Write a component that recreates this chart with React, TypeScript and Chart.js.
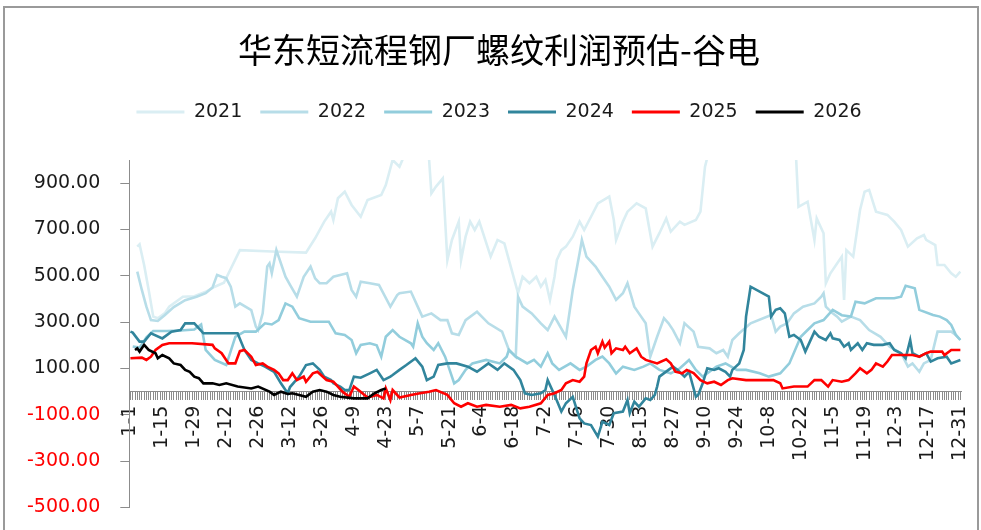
import React, { useEffect, useRef } from 'react';
import { Chart, registerables } from 'chart.js';

Chart.register(...registerables);

const chartTitle = '华东短流程钢厂螺纹利润预估-谷电';
const seriesNames = ['2021', '2022', '2023', '2024', '2025', '2026'];
const seriesColors = ['#DAEEF3', '#B7DDE8', '#92CDDC', '#31859C', '#FF0000', '#000000'];
const tickLabels = ['1-1', '1-15', '1-29', '2-12', '2-26', '3-12', '3-26', '4-9', '4-23', '5-7', '5-21', '6-4', '6-18', '7-2', '7-16', '7-30', '8-13', '8-27', '9-10', '9-24', '10-8', '10-22', '11-5', '11-19', '12-3', '12-17', '12-31'];
const tickStepDays = 14;
const yTickValues = [-500, -300, -100, 100, 300, 500, 700, 900];
const yMin = -500;
const yMax = 1000;

// [day of year (0 = 1-1), value]
const s2021: [number, number][] = [[3,626],[4,636],[6,547],[8,439],[10,324],[12,317],[15,338],[17,367],[23,410],[28,412],[33,431],[37,453],[41,470],[48,611],[62,605],[77,600],[81,662],[85,734],[88,777],[89,741],[91,835],[94,863],[97,806],[101,755],[104,827],[110,849],[112,892],[115,1000],[118,971],[121,1040],[127,1080],[131,1000],[132,856],[134,885],[137,921],[139,568],[141,655],[144,734],[145,568],[147,669],[149,734],[151,698],[153,734],[158,583],[161,655],[164,640],[170,425],[172,496],[175,468],[178,496],[180,453],[182,482],[184,396],[186,496],[187,568],[189,611],[191,626],[194,669],[197,734],[199,698],[202,755],[205,813],[210,842],[212,741],[213,655],[216,734],[218,777],[222,813],[226,791],[229,626],[232,684],[235,748],[237,691],[241,734],[243,720],[248,741],[250,777],[252,971],[253,1010],[260,1150],[275,1250],[288,1150],[292,1000],[293,798],[297,820],[300,655],[301,748],[304,684],[305,468],[307,511],[310,554],[312,583],[313,396],[314,611],[317,583],[320,784],[322,863],[324,871],[327,777],[332,763],[335,734],[338,698],[341,626],[345,662],[348,676],[349,655],[353,633],[354,547],[357,547],[360,511],[362,496],[364,518]];

const s2022: [number, number][] = [[3,518],[5,439],[7,367],[9,309],[12,305],[15,330],[19,365],[24,395],[29,410],[33,425],[36,450],[38,504],[40,496],[42,490],[44,453],[46,367],[48,381],[53,352],[55,281],[56,266],[58,338],[60,540],[61,554],[62,511],[64,611],[68,496],[70,461],[73,410],[76,496],[79,540],[81,489],[83,468],[86,468],[89,496],[95,511],[97,439],[99,410],[101,475],[105,468],[109,461],[114,367],[117,417],[118,425],[123,432],[126,367],[128,324],[132,338],[136,309],[139,309],[141,252],[144,245],[147,309],[152,345],[157,295],[163,259],[166,180],[169,151],[170,410],[172,367],[176,338],[180,295],[183,266],[186,324],[191,237],[194,439],[197,597],[198,655],[200,583],[204,540],[207,496],[210,453],[213,396],[216,425],[218,468],[221,367],[223,338],[226,295],[228,151],[231,237],[234,317],[236,295],[238,266],[241,209],[243,295],[247,259],[249,194],[254,187],[257,166],[260,180],[262,151],[264,223],[267,252],[272,295],[281,331],[283,259],[285,281],[288,295],[291,338],[295,367],[300,381],[303,410],[304,425],[305,367],[308,338],[310,324],[312,302],[316,324],[320,309],[324,266],[329,237],[333,194],[338,166],[341,108],[343,122],[346,86],[348,122],[351,137],[354,259],[360,259],[362,245],[364,223]];

const s2023: [number, number][] = [[1,195],[4,190],[7,235],[10,262],[16,262],[22,264],[28,268],[31,290],[33,180],[37,137],[42,115],[46,237],[50,259],[55,259],[59,295],[62,290],[65,309],[68,381],[71,367],[74,317],[79,302],[87,302],[90,252],[94,245],[97,223],[99,166],[101,202],[105,209],[108,200],[110,151],[112,237],[115,266],[118,237],[123,209],[124,194],[126,295],[128,237],[130,209],[133,180],[135,209],[138,151],[140,94],[142,36],[144,50],[147,94],[150,122],[156,137],[162,122],[165,151],[166,180],[169,151],[174,122],[177,137],[180,108],[183,166],[185,122],[188,94],[193,122],[197,94],[200,108],[204,137],[207,151],[210,122],[213,79],[216,108],[221,94],[225,108],[228,122],[232,94],[237,79],[241,101],[245,137],[248,94],[251,65],[257,108],[261,122],[266,94],[270,94],[276,79],[280,65],[285,79],[289,122],[294,237],[297,266],[300,295],[304,309],[308,353],[312,330],[316,324],[318,388],[322,381],[327,403],[335,403],[338,410],[340,457],[344,446],[346,353],[352,331],[355,324],[358,309],[360,288],[362,245],[364,223]];

const s2024: [number, number][] = [[0,259],[1,255],[4,216],[6,216],[9,252],[14,230],[18,259],[22,266],[24,295],[28,295],[32,252],[47,252],[50,180],[53,137],[56,122],[59,108],[63,86],[66,36],[68,7],[69,-7],[70,20],[74,65],[77,115],[80,122],[83,94],[85,65],[88,50],[89,36],[92,22],[94,7],[96,7],[98,65],[101,60],[105,79],[108,94],[111,50],[114,65],[115,72],[118,94],[121,115],[124,137],[125,144],[128,108],[130,50],[133,65],[135,115],[139,122],[143,122],[148,108],[152,86],[157,122],[161,94],[164,122],[168,94],[171,50],[173,-7],[176,-14],[180,-7],[182,7],[183,50],[186,-14],[189,-86],[191,-50],[194,-22],[197,-115],[199,-137],[202,-144],[205,-194],[207,-130],[210,-144],[212,-93],[216,-86],[218,-36],[219,-93],[221,-43],[223,-65],[226,-29],[228,-36],[230,-14],[231,22],[232,65],[236,94],[238,108],[240,94],[243,65],[245,86],[248,-22],[249,-14],[251,36],[253,101],[256,94],[258,101],[261,86],[263,65],[264,94],[267,122],[269,180],[270,324],[272,453],[280,410],[281,324],[283,353],[285,360],[287,338],[289,237],[291,245],[294,223],[296,173],[298,216],[300,259],[302,237],[305,223],[307,252],[308,230],[311,223],[313,194],[315,209],[316,180],[319,209],[321,180],[323,209],[326,202],[330,202],[333,209],[335,180],[338,166],[340,144],[342,223],[343,166],[346,151],[349,166],[351,130],[354,144],[358,151],[360,122],[364,137]];

const s2025: [number, number][] = [[0,144],[5,147],[7,137],[9,151],[11,180],[14,202],[17,209],[27,209],[36,202],[37,187],[40,166],[43,122],[46,122],[48,175],[50,180],[53,151],[55,115],[58,122],[60,108],[63,94],[65,79],[67,50],[69,50],[71,79],[73,50],[76,65],[77,43],[80,79],[82,86],[86,50],[89,43],[91,22],[93,0],[96,-22],[98,22],[100,7],[104,-25],[108,-14],[111,-29],[112,14],[114,-36],[115,7],[118,-25],[123,-14],[127,-7],[131,0],[134,7],[139,-14],[142,-50],[145,-65],[148,-50],[152,-65],[156,-57],[162,-65],[167,-57],[171,-72],[175,-65],[180,-50],[183,-14],[186,-7],[189,7],[191,36],[194,50],[197,43],[199,65],[200,122],[202,180],[204,194],[205,166],[207,216],[208,190],[210,216],[211,166],[213,187],[216,180],[217,194],[219,166],[222,187],[224,151],[226,137],[231,122],[235,140],[237,122],[239,86],[242,79],[244,94],[247,80],[250,50],[253,36],[256,43],[259,29],[262,50],[264,58],[270,50],[282,50],[285,36],[286,14],[291,22],[297,22],[300,50],[303,50],[306,22],[308,50],[312,43],[315,50],[318,79],[320,101],[323,79],[325,94],[327,122],[330,108],[332,130],[334,158],[340,158],[343,158],[346,151],[349,166],[351,173],[356,173],[357,158],[360,180],[364,180]];

const s2026: [number, number][] = [[2,180],[3,187],[4,173],[6,202],[8,180],[11,166],[12,144],[14,158],[17,144],[19,122],[22,115],[24,94],[26,86],[28,65],[30,58],[32,36],[36,36],[39,29],[42,36],[47,22],[53,14],[56,22],[61,0],[63,-14],[66,0],[69,-10],[71,-7],[74,-14],[77,-22],[80,0],[83,7],[86,0],[89,-14],[92,-22],[98,-29],[104,-29],[107,-7],[110,7],[112,14]];

const allSeries = [s2021, s2022, s2023, s2024, s2025, s2026];

const numFont = { family: "'DejaVu Sans', sans-serif", size: 19 };

// keep y tick labels from being clipped at the (padded) left edge of the y-axis box
const widenYLabelArea = {
  id: 'widenYLabelArea',
  afterLayout(chart: any) {
    const y = chart.scales.y;
    if (y) {
      y.left = 0;
      y.width = y.right;
    }
  },
};

export default function App() {
  const canvasRef = useRef<HTMLCanvasElement | null>(null);

  useEffect(() => {
    const canvas = canvasRef.current;
    if (!canvas) return;

    const datasets = seriesNames.map((name, i) => ({
      label: name,
      data: allSeries[i].map(([d, v]) => ({ x: d, y: v })),
      borderColor: seriesColors[i],
      backgroundColor: seriesColors[i],
      borderWidth: 2.6,
      pointRadius: 0,
      pointHoverRadius: 0,
      tension: 0,
      fill: false,
      order: seriesNames.length - i,
    }));

    const chart = new Chart(canvas, {
      type: 'line',
      data: { datasets },
      plugins: [widenYLabelArea],
      options: {
        animation: false,
        responsive: true,
        maintainAspectRatio: false,
        layout: { padding: { left: 36.5, right: 19.5, top: 0, bottom: 22.5 } },
        plugins: {
          title: {
            display: true,
            text: chartTitle,
            color: '#000',
            font: { family: "'Noto Sans CJK SC', sans-serif", size: 34, weight: 'normal' },
            padding: { top: 30, bottom: 13.7 },
          },
          subtitle: {
            display: true,
            text: ' ',
            weight: 500,
            font: { size: 10 },
            padding: { top: 0, bottom: 16.5 },
          },
          legend: {
            display: true,
            position: 'top',
            labels: {
              boxWidth: 48,
              boxHeight: 3,
              padding: 18,
              color: '#1a1a1a',
              font: numFont,
              sort: (a: any, b: any) => a.datasetIndex - b.datasetIndex,
              generateLabels: (c: any) =>
                Chart.defaults.plugins.legend.labels
                  .generateLabels(c)
                  .map((l: any) => ({ ...l, fillStyle: l.strokeStyle, lineWidth: 0 })),
            },
          },
          tooltip: { enabled: false },
        },
        scales: {
          x: {
            type: 'linear',
            position: { y: 0 } as any,
            min: -0.5,
            max: 364.5,
            afterBuildTicks: (s: any) => {
              s.ticks = Array.from({ length: 365 }, (_, i) => ({ value: i }));
            },
            afterFit: (s: any) => {
              s.paddingLeft = 0;
              s.paddingRight = 0;
            },
            ticks: {
              autoSkip: false,
              minRotation: 90,
              maxRotation: 90,
              padding: 6,
              color: '#1a1a1a',
              font: numFont,
              callback: (v: any) => {
                const n = Number(v);
                return n % tickStepDays === 0 ? tickLabels[n / tickStepDays] ?? '' : '';
              },
            },
            grid: { drawOnChartArea: false, drawTicks: true, tickLength: 8, color: '#8c8c8c', lineWidth: 1 },
            border: { display: true, color: '#8c8c8c', width: 1 },
          },
          y: {
            type: 'linear',
            min: yMin,
            max: yMax,
            afterBuildTicks: (s: any) => {
              s.ticks = yTickValues.map((v) => ({ value: v }));
            },
            afterFit: (s: any) => {
              s.width = 129.3 - 36.5;
              s.paddingTop = 0;
              s.paddingBottom = 0;
            },
            ticks: {
              padding: 20,
              font: numFont,
              color: (c: any) => (c.tick && c.tick.value < 0 ? '#FF0000' : '#1a1a1a'),
              callback: (v: any) => Number(v).toFixed(2),
            },
            grid: { drawOnChartArea: false, drawTicks: true, tickLength: 9, color: '#8c8c8c' },
            border: { display: true, color: '#8c8c8c', width: 1 },
          },
        },
      } as any,
    });

    return () => chart.destroy();
  }, []);

  return (
    <div style={{ position: 'absolute', left: 0, top: 0, width: 981, height: 530, overflow: 'hidden', background: '#fff' }}>
      <canvas ref={canvasRef} />
      <div
        style={{
          position: 'absolute',
          left: 3,
          top: 6,
          width: 972,
          height: 540,
          border: '2px solid #9a9a9a',
          pointerEvents: 'none',
        }}
      />
    </div>
  );
}
